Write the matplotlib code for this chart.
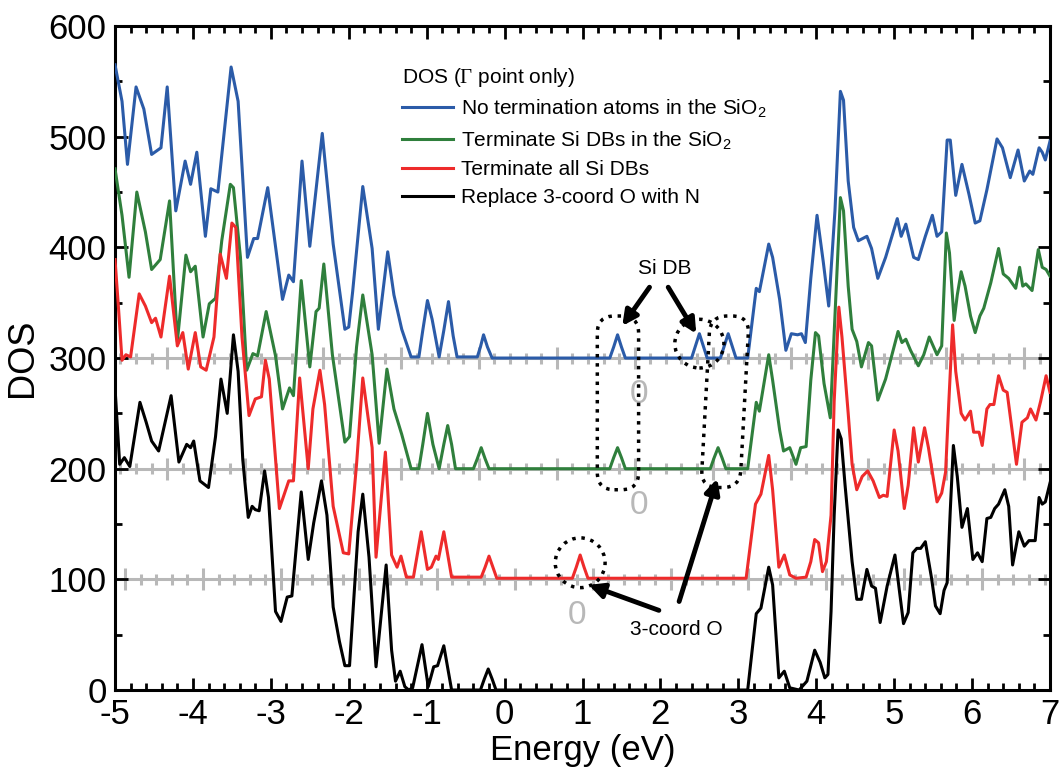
import numpy as np
import matplotlib
matplotlib.use("Agg")
import matplotlib.pyplot as plt
from matplotlib.patches import Ellipse, FancyBboxPatch
from matplotlib.transforms import Affine2D
from matplotlib.ticker import MultipleLocator

plt.rcParams['font.family'] = ['Liberation Sans', 'DejaVu Sans']
plt.rcParams['axes.unicode_minus'] = False
plt.rcParams['mathtext.fontset'] = 'custom'
plt.rcParams['mathtext.rm'] = 'Liberation Serif'
plt.rcParams['mathtext.sf'] = 'Liberation Sans'

# DOS curves (energy in eV, DOS with the plot offsets included)
blue_e = [-5.00, -4.91, -4.84, -4.73, -4.63, -4.53, -4.41, -4.33, -4.22, -4.10, -4.03, -3.95,
          -3.84, -3.77, -3.68, -3.51, -3.42, -3.30, -3.22, -3.17, -3.04, -2.85, -2.77, -2.71,
          -2.60, -2.50, -2.34, -2.20, -2.05, -2.00, -1.95, -1.82, -1.70, -1.62, -1.50, -1.42,
          -1.32, -1.20, -1.10, -1.05, -0.99, -0.93, -0.84, -0.78, -0.72, -0.66, -0.61, -0.35,
          -0.31, -0.27, -0.22, -0.16, 1.35, 1.40, 1.45, 1.50, 1.55, 2.40, 2.45, 2.50, 2.55,
          2.60, 2.77, 2.82, 2.87, 2.92, 2.97, 3.12, 3.23, 3.27, 3.39, 3.44, 3.53, 3.61, 3.68,
          3.76, 3.81, 3.86, 3.93, 4.01, 4.09, 4.16, 4.24, 4.31, 4.35, 4.41, 4.48, 4.54, 4.65,
          4.71, 4.79, 4.89, 5.04, 5.09, 5.15, 5.25, 5.31, 5.40, 5.49, 5.55, 5.61, 5.68, 5.72,
          5.79, 5.87, 5.96, 6.04, 6.10, 6.19, 6.32, 6.39, 6.49, 6.59, 6.67, 6.74, 6.78, 6.86,
          6.90, 6.94, 7.00]
blue_dos = [565, 532, 475, 545, 525, 484, 490, 545, 433, 478, 457, 486,
            410, 453, 450, 563, 532, 391, 408, 408, 454, 353, 375, 369,
            478, 401, 503, 403, 326, 328, 360, 455, 399, 326, 396, 357,
            326, 301, 301, 325, 352, 335, 301, 325, 351, 320, 301, 301,
            310, 321, 310, 300, 300, 310, 321, 310, 300, 300, 311, 322, 311,
            300, 300, 311, 322, 311, 300, 300, 363, 360, 403, 391, 353, 307, 322,
            321, 322, 314, 372, 429, 387, 347, 433, 541, 533, 460, 418, 406, 410,
            399, 372, 391, 426, 410, 421, 391, 389, 410, 429, 410, 414, 497, 497,
            447, 475, 448, 422, 424, 452, 498, 490, 463, 488, 460, 469, 466, 490,
            486, 479, 496]

green_e = [-5.00, -4.91, -4.82, -4.72, -4.61, -4.53, -4.42, -4.30, -4.20, -4.09, -4.03, -3.97,
           -3.87, -3.79, -3.71, -3.63, -3.52, -3.48, -3.39, -3.31, -3.23, -3.17, -3.06, -2.94,
           -2.85, -2.76, -2.71, -2.61, -2.50, -2.42, -2.38, -2.32, -2.21, -2.05, -1.99, -1.90,
           -1.82, -1.70, -1.61, -1.51, -1.42, -1.32, -1.20, -1.10, -1.05, -0.99, -0.92, -0.84,
           -0.78, -0.73, -0.68, -0.63, -0.40, -0.35, -0.30, -0.25, -0.20, 1.35, 1.40, 1.45,
           1.50, 1.55, 2.64, 2.69, 2.74, 2.79, 2.84, 3.12, 3.23, 3.27, 3.39, 3.44, 3.53, 3.58,
           3.66, 3.74, 3.80, 3.87, 3.93, 3.99, 4.03, 4.10, 4.18, 4.24, 4.31, 4.35, 4.41, 4.46,
           4.52, 4.58, 4.67, 4.71, 4.79, 4.89, 5.05, 5.10, 5.15, 5.21, 5.31, 5.38, 5.45, 5.55,
           5.61, 5.67, 5.71, 5.77, 5.81, 5.86, 5.91, 5.98, 6.04, 6.10, 6.15, 6.24, 6.34, 6.40,
           6.47, 6.56, 6.61, 6.65, 6.69, 6.77, 6.85, 6.90, 6.95, 7.00]
green_dos = [471, 429, 373, 450, 414, 380, 389, 442, 315, 393, 378, 383,
             319, 349, 354, 406, 457, 454, 391, 289, 304, 302, 342, 302,
             254, 273, 266, 370, 292, 342, 345, 385, 303, 224, 229, 310,
             357, 303, 223, 290, 254, 231, 200, 200, 222, 250, 222, 200,
             222, 239, 222, 200, 200, 209, 219, 209, 200, 200, 210, 219,
             210, 200, 200, 210, 219, 210, 200, 200, 260, 252, 303, 280, 235, 216,
             219, 204, 219, 220, 280, 323, 320, 277, 246, 338, 445, 433, 365, 326,
             315, 292, 314, 311, 262, 281, 324, 314, 317, 307, 293, 303, 319, 303,
             311, 413, 395, 334, 357, 378, 365, 338, 323, 338, 345, 368, 399, 376,
             372, 363, 382, 365, 367, 361, 398, 382, 380, 374]

red_e = [-5.00, -4.96, -4.91, -4.86, -4.80, -4.69, -4.61, -4.53, -4.48, -4.41, -4.30, -4.20,
         -4.13, -4.06, -3.97, -3.90, -3.83, -3.73, -3.65, -3.57, -3.50, -3.45, -3.37, -3.28,
         -3.20, -3.12, -3.07, -3.02, -2.89, -2.77, -2.71, -2.63, -2.52, -2.46, -2.37, -2.31,
         -2.20, -2.07, -2.00, -1.90, -1.82, -1.70, -1.65, -1.53, -1.45, -1.38, -1.33, -1.26,
         -1.17, -1.07, -0.99, -0.94, -0.88, -0.85, -0.78, -0.68, -0.30, -0.25, -0.20, -0.15,
         -0.10, 0.87, 0.92, 0.97, 1.02, 1.07, 3.10, 3.22, 3.29, 3.39, 3.44, 3.52, 3.59, 3.66,
         3.74, 3.87, 3.93, 3.98, 4.03, 4.08, 4.13, 4.19, 4.23, 4.29, 4.33, 4.41, 4.46, 4.52,
         4.59, 4.66, 4.73, 4.81, 4.86, 4.91, 5.00, 5.05, 5.13, 5.18, 5.25, 5.31, 5.39, 5.44,
         5.55, 5.61, 5.66, 5.70, 5.75, 5.79, 5.86, 5.91, 5.98, 6.02, 6.09, 6.13, 6.19, 6.23,
         6.28, 6.34, 6.40, 6.45, 6.57, 6.64, 6.71, 6.75, 6.82, 6.88, 6.95, 7.00]
red_dos = [389, 350, 298, 303, 301, 358, 347, 332, 336, 319, 374, 311,
           323, 290, 323, 292, 289, 319, 394, 372, 422, 418, 319, 248,
           263, 265, 298, 281, 164, 189, 189, 282, 200, 254, 289, 258,
           166, 124, 123, 204, 282, 219, 120, 215, 122, 111, 121, 102,
           102, 143, 109, 111, 121, 118, 143, 102, 102, 111, 121, 111,
           101, 101, 111, 122, 111, 101, 101, 168, 177, 212, 181, 111, 122, 104,
           101, 102, 116, 136, 133, 107, 116, 158, 261, 346, 319, 250, 204, 181,
           193, 198, 189, 174, 176, 175, 235, 216, 164, 185, 237, 206, 237, 219,
           170, 178, 197, 258, 330, 288, 250, 244, 252, 233, 233, 221, 254, 258,
           258, 284, 271, 269, 204, 242, 246, 254, 244, 261, 284, 269]

black_e = [-5.00, -4.94, -4.88, -4.81, -4.68, -4.60, -4.53, -4.44, -4.28, -4.18, -4.08, -4.03,
           -3.99, -3.91, -3.80, -3.71, -3.64, -3.56, -3.48, -3.42, -3.36, -3.29, -3.24, -3.20,
           -3.15, -3.08, -3.03, -2.94, -2.87, -2.79, -2.73, -2.61, -2.52, -2.45, -2.35, -2.28,
           -2.20, -2.12, -2.05, -1.99, -1.88, -1.82, -1.74, -1.65, -1.52, -1.45, -1.40, -1.34,
           -1.28, -1.23, -1.18, -1.06, -0.98, -0.91, -0.86, -0.78, -0.68, -0.31, -0.26, -0.21,
           -0.16, -0.11, 3.12, 3.23, 3.29, 3.39, 3.44, 3.52, 3.59, 3.66, 3.78, 3.88, 3.98,
           4.05, 4.11, 4.15, 4.19, 4.23, 4.28, 4.32, 4.37, 4.46, 4.52, 4.58, 4.65, 4.71, 4.76,
           4.82, 4.91, 5.01, 5.12, 5.18, 5.24, 5.29, 5.34, 5.40, 5.48, 5.53, 5.59, 5.64, 5.68,
           5.72, 5.76, 5.81, 5.87, 5.94, 6.01, 6.07, 6.13, 6.19, 6.24, 6.29, 6.34, 6.42, 6.47,
           6.52, 6.60, 6.67, 6.73, 6.81, 6.86, 6.90, 6.94, 7.00]
black_dos = [273, 204, 210, 202, 260, 242, 225, 216, 266, 206, 222, 219,
             225, 189, 183, 229, 281, 250, 321, 288, 208, 156, 166, 163,
             162, 198, 174, 71, 62, 84, 85, 179, 118, 151, 189, 158,
             75, 44, 22, 22, 143, 177, 120, 21, 113, 36, 8, 17,
             3, 0, 2, 41, 3, 21, 22, 40, 0, 0, 10, 19,
             10, 0, 0, 69, 74, 111, 95, 11, 17, 2, 0, 8, 36,
             25, 11, 14, 71, 158, 235, 227, 185, 116, 82, 82, 109, 94, 92,
             61, 94, 122, 60, 70, 124, 128, 128, 134, 101, 76, 69, 90, 97,
             162, 221, 193, 147, 164, 118, 124, 116, 155, 156, 164, 168, 181, 166,
             113, 143, 130, 135, 135, 174, 168, 170, 187]

labels = ['No termination atoms in the SiO$_\\mathsf{2}$',
          'Terminate Si DBs in the SiO$_\\mathsf{2}$',
          'Terminate all Si DBs',
          'Replace 3-coord O with N']
colors = ['#2b5ba8', '#2f7f3c', '#ee2b2b', '#000000']

offsets = [300, 200, 100]
offset_tick_shift = [-0.33, -0.33, -0.07]

fig = plt.figure(figsize=(10.59, 7.69), dpi=100)
ax = fig.add_axes([0.1086, 0.1027, 0.8829, 0.8634])

# grey baselines of the shifted curves, with their own small ticks
grey = '#b8b8b8'
for base, shift in zip(offsets, offset_tick_shift):
    ax.axhline(base, color=grey, lw=2.2, zorder=1)
    tk = np.arange(-5 + shift, 7.01, 0.2)
    tk = tk[(tk > -4.99) & (tk < 6.99)]
    for i, t in enumerate(tk):
        start = int(round((1 + shift) / 0.2)) % 5
        h = 10 if (i - start) % 5 == 0 else 5
        ax.plot([t, t], [base - h, base + h], color=grey, lw=2.2, zorder=1,
                solid_capstyle='butt')

for e, d, c, lab in zip([blue_e, green_e, red_e, black_e],
                        [blue_dos, green_dos, red_dos, black_dos], colors, labels):
    ax.plot(e, d, color=c, lw=2.2, label=lab, zorder=3)

ax.set_xlim(-5, 7)
ax.set_ylim(0, 600)
ax.xaxis.set_major_locator(MultipleLocator(1))
ax.xaxis.set_minor_locator(MultipleLocator(0.2))
ax.yaxis.set_major_locator(MultipleLocator(100))
ax.yaxis.set_minor_locator(MultipleLocator(50))
ax.tick_params(which='both', direction='in', top=True, right=True, width=2)
ax.tick_params(which='major', length=9, labelsize=25, pad=6)
ax.tick_params(which='minor', length=5)
for s in ax.spines.values():
    s.set_linewidth(2.2)
ax.set_xlabel('Energy (eV)', fontsize=25, labelpad=2)
ax.set_ylabel('DOS', fontsize=26, labelpad=6)

leg = ax.legend(loc='upper left', bbox_to_anchor=(0.307, 0.94), frameon=False,
                fontsize=15, title='DOS ($\\mathrm{\\Gamma}$ point only)',
                title_fontsize=15, handlelength=2.45, handletextpad=0.4,
                labelspacing=0.42, borderpad=0, borderaxespad=0, alignment='left')

# grey zero labels of the shifted axes
for xz, yz in [(1.72, 267), (1.72, 167), (0.93, 67)]:
    ax.text(xz, yz, '0', color=grey, fontsize=24, ha='center', va='center')

# dotted marks
asp = (0.8829 * 1059 / 12) / (0.8634 * 769 / 600)
box1 = FancyBboxPatch((1.19, 181), 0.53, 157,
                      boxstyle='round,pad=0,rounding_size=0.22',
                      mutation_aspect=asp, fill=False, ls=':', lw=2.5, ec='k', zorder=4)
ax.add_patch(box1)
shear = Affine2D().translate(0, -183).skew(np.arctan(0.12 / 155), 0).translate(0, 183)
box2 = FancyBboxPatch((2.52, 183), 0.5, 155,
                      boxstyle='round,pad=0,rounding_size=0.22',
                      mutation_aspect=asp, fill=False, ls=':', lw=2.5, ec='k',
                      zorder=4, transform=shear + ax.transData)
ax.add_patch(box2)
ax.add_patch(Ellipse((2.50, 313), 0.63, 44, fill=False, ls=':', lw=2.5, ec='k', zorder=4))
ax.add_patch(Ellipse((0.97, 115), 0.64, 45, fill=False, ls=':', lw=2.5, ec='k', zorder=4))

arrow = dict(arrowstyle='-|>', lw=3.5, color='k', mutation_scale=22, shrinkA=0, shrinkB=0)
ax.text(2.05, 381, 'Si DB', fontsize=15, ha='center', va='center')
ax.annotate('', xy=(1.51, 329), xytext=(1.86, 364), arrowprops=arrow)
ax.annotate('', xy=(2.46, 322), xytext=(2.10, 364), arrowprops=arrow)
ax.text(2.20, 55, '3-coord O', fontsize=15, ha='center', va='center')
ax.annotate('', xy=(1.08, 95), xytext=(1.98, 72), arrowprops=arrow)
ax.annotate('', xy=(2.73, 191), xytext=(2.24, 80), arrowprops=arrow)

fig.savefig('out.png', dpi=100)
